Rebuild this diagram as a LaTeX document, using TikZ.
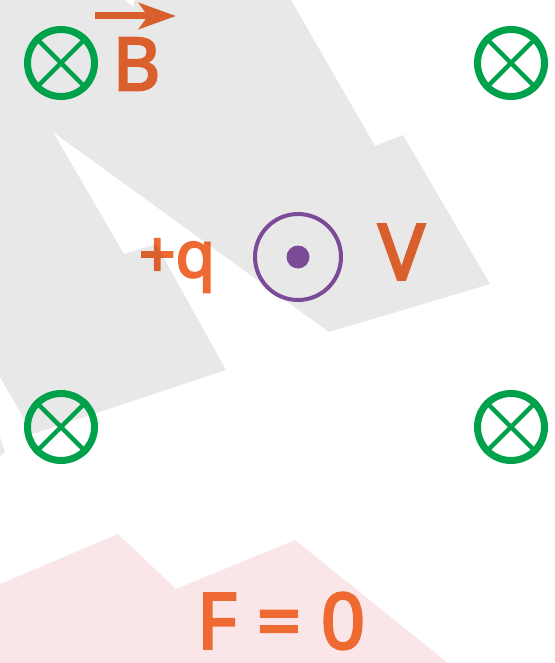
\documentclass[tikz,border=0pt]{standalone}
\usepackage{fontspec}
\newfontfamily\lbl{Noto Sans}[FakeBold=3.5]
\usetikzlibrary{arrows.meta}
\definecolor{grn}{RGB}{0,161,75}
\definecolor{prp}{RGB}{123,75,151}
\definecolor{org}{RGB}{239,106,50}
\definecolor{pnk}{RGB}{250,230,232}
\begin{document}
\begin{tikzpicture}[x=1pt,y=-1pt,
  fieldin/.style={circle, draw=grn, line width=7pt, minimum size=67pt, inner sep=0pt},
  crossline/.style={draw=grn, line width=4.5pt},
  label/.style={text=org, inner sep=0pt, font=\lbl},
  shade/.style={fill=black, fill opacity=0.09}]
\useasboundingbox (0,0) rectangle (554,663);
% pink background band
\fill[pnk] (0,584) -- (118,534) -- (176,589) -- (295,540) -- (448,663) -- (0,663) -- cycle;
% texts
\node[label, font=\lbl\fontsize{73}{80}\selectfont] (B) at (136.5,64) {B};
\coordinate (a1) at (95,16);
\coordinate (a2) at (176,16);
\draw[org, line width=7pt, -{Stealth[length=37pt,width=26pt,inset=9pt]}] (a1) -- (a2);
\node[label, font=\lbl\fontsize{77}{80}\selectfont] (V) at (401.5,252) {V};
\node[label, anchor=base, font=\lbl\fontsize{64}{70}\selectfont] (q) at (177,277) {+q};
\node[label, font=\lbl\fontsize{77}{80}\selectfont] (F) at (281,621) {F = 0};
% gray shapes (multiply-like overlay)
\fill[shade] (0,0) -- (125,0) -- (133,7) -- (135,0) -- (291,0) -- (375,146) -- (403,135)
  -- (490,284) -- (329,332) -- (53,132) -- (124,254) -- (156,244) -- (226,370)
  -- (33,434) -- (0,377) -- cycle
  (0,437) -- (5,452) -- (0,456) -- cycle;
% charge
\node[circle, draw=prp, line width=4pt, minimum size=86pt, inner sep=0pt] (charge) at (298,257) {};
\node[circle, fill=prp, minimum size=23pt, inner sep=0pt] (dot) at (charge.center) {};
% field into page
\foreach \n/\x/\y in {b1/61/63, b2/511/63, b3/61/427, b4/511/427}{
  \node[fieldin] (\n) at (\x,\y) {};
  \draw[crossline] (\n.45) -- (\n.225);
  \draw[crossline] (\n.135) -- (\n.315);
}
\end{tikzpicture}
\end{document}
